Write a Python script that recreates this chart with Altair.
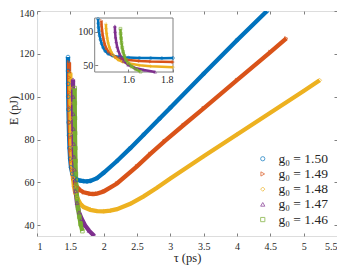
import altair as alt
import pandas as pd

# ---------------- data ----------------
series = ["g₀ = 1.50", "g₀ = 1.49", "g₀ = 1.48", "g₀ = 1.47", "g₀ = 1.46"]
colors = ["#0072BD", "#D95319", "#EDB120", "#7E2F8E", "#77AC30"]
shapes = ["circle", "triangle-right", "diamond", "triangle-up", "square"]

tau_150 = [1.465, 1.466, 1.467, 1.469, 1.472, 1.476, 1.481, 1.488, 1.497, 1.51, 1.53, 1.56, 1.6,
           1.65, 1.7, 1.75, 1.8, 1.9, 2.0, 2.2, 2.4, 2.6, 2.84, 3.0, 3.5, 4.0, 4.45]
E_150 = [118.5, 112, 106, 100, 94, 88, 82, 76, 71, 67, 64, 62.3, 61.3,
         60.8, 60.6, 60.5, 60.7, 62.0, 64.5, 70.0, 76.0, 82.3, 89.8, 94.9, 110.7, 126.4, 140]

tau_149 = [1.48, 1.481, 1.483, 1.486, 1.49, 1.495, 1.502, 1.512, 1.525, 1.545, 1.57, 1.6, 1.65,
           1.7, 1.8, 1.85, 1.9, 2.0, 2.2, 2.5, 2.7, 2.915, 3.2, 3.5, 4.0, 4.5, 4.74]
E_149 = [116, 109, 102, 95, 88, 81, 75, 70, 66, 62, 59.5, 57.8, 56.3,
         55.4, 54.7, 54.6, 54.8, 55.8, 59.5, 67.5, 73.3, 79.3, 86.8, 94.6, 107.7, 120.8, 127.2]

tau_148 = [1.50, 1.501, 1.503, 1.506, 1.51, 1.515, 1.522, 1.53, 1.54, 1.555, 1.575, 1.6, 1.65,
           1.7, 1.8, 1.9, 2.0, 2.1, 2.2, 2.4, 2.6, 2.8, 3.0, 3.5, 4.0, 4.5, 5.0, 5.24]
E_148 = [111, 104, 97, 90, 83, 77, 71, 66, 62, 58, 55, 53, 50,
         48.5, 47.2, 46.6, 46.5, 46.8, 47.5, 50.0, 53.5, 57.5, 61.8, 72.2, 82.4, 92.5, 102.7, 107.7]

tau_147 = [1.54, 1.541, 1.543, 1.546, 1.55, 1.555, 1.562, 1.57, 1.58, 1.6, 1.63, 1.67, 1.72,
           1.78, 1.86]
E_147 = [108, 100, 92, 85, 78, 72, 66, 61, 56, 50.5, 46, 43, 40,
         37.5, 35]

tau_146 = [1.565, 1.566, 1.568, 1.57, 1.573, 1.577, 1.582, 1.59, 1.6, 1.615, 1.635, 1.655, 1.68]
E_146 = [104, 97, 90, 83, 76, 70, 64, 58, 53, 48, 44, 40.5, 37.3]

x_ticks = [1, 1.5, 2, 2.5, 3, 3.5, 4, 4.5, 5, 5.5]
y_ticks = [40, 60, 80, 100, 120, 140]
x_domain = [1, 5.5]
y_domain = [35, 140]

inset_x_domain = [1.45, 1.8]
inset_y_domain = [40, 120]
inset_x_ticks = [1.6, 1.8]
inset_y_ticks = [50, 100]

rows = []
for name, ts, es in zip(series,
                        [tau_150, tau_149, tau_148, tau_147, tau_146],
                        [E_150, E_149, E_148, E_147, E_146]):
    for i, (t, e) in enumerate(zip(ts, es)):
        rows.append({"g": name, "tau": t, "E": e, "idx": i})
df = pd.DataFrame(rows)

# ---------------- layout ----------------
W, H = 300, 225
FONT = "Liberation Serif, DejaVu Serif, serif"
AX = "#808080"
TXT = "#262626"

xs = alt.Scale(domain=x_domain, nice=False, zero=False)
ys = alt.Scale(domain=y_domain, nice=False, zero=False)
cs = alt.Scale(domain=series, range=colors)
ss = alt.Scale(domain=series, range=shapes)

x_axis = alt.Axis(values=x_ticks, format="~g", title="τ (ps)", orient="bottom", offset=-3,
                  tickSize=3, domain=False, grid=False, labelPadding=5, tickColor=AX,
                  labelColor=TXT, labelFont=FONT, labelFontSize=10, titleFont=FONT,
                  titleFontSize=12.5, titleFontWeight="normal", titleColor=TXT,
                  titleX=W / 2, titleY=24, titleAlign="center", titleBaseline="middle")
y_axis = alt.Axis(values=y_ticks, format="d", title="E (pJ)", orient="left", offset=-3,
                  tickSize=3, domain=False, grid=False, labelPadding=3, tickColor=AX,
                  labelColor=TXT, labelFont=FONT, labelFontSize=10, titleFont=FONT,
                  titleFontSize=12, titleFontWeight="normal", titleColor=TXT,
                  titleX=-26.5, titleY=99, titleAngle=270, titleAlign="center",
                  titleBaseline="middle",
                  labelOffset=alt.ExprRef("datum.value == 140 ? 2 : 0"))
x_mirror = alt.Axis(values=x_ticks, orient="bottom", offset=-H, tickSize=3, domain=False,
                    labels=False, grid=False, title=None, tickColor=AX)
y_mirror = alt.Axis(values=y_ticks, orient="left", offset=-W, tickSize=3, domain=False,
                    labels=False, grid=False, title=None, tickColor=AX)

legend = alt.Legend(orient="none", legendX=219, legendY=141, title=None, labelFont=FONT,
                    labelFontSize=13.5, labelColor=TXT, symbolSize=18, symbolStrokeWidth=1,
                    rowPadding=0.2, padding=0, labelOffset=9)

base = alt.Chart(df)
main_lines = base.mark_line(strokeWidth=4.3, clip=True).encode(
    x=alt.X("tau:Q", scale=xs, axis=x_axis),
    y=alt.Y("E:Q", scale=ys, axis=y_axis),
    color=alt.Color("g:N", scale=cs, legend=legend),
    detail="g:N",
    order="idx:Q",
)
main_points = base.mark_point(filled=False, size=14, strokeWidth=1, clip=True).encode(
    x=alt.X("tau:Q", scale=xs, axis=x_mirror),
    y=alt.Y("E:Q", scale=ys, axis=y_mirror),
    color=alt.Color("g:N", scale=cs, legend=legend),
    shape=alt.Shape("g:N", scale=ss, legend=legend),
)
main = alt.layer(main_lines, main_points).resolve_axis(x="independent", y="independent")

# ---------------- inset ----------------
I_TOP, I_BOT, I_LEFT, I_RIGHT = 7, 61, 57.7, 136
ixs = alt.Scale(domain=inset_x_domain, range=[I_LEFT, I_RIGHT], nice=False, zero=False)
iys = alt.Scale(domain=inset_y_domain, range=[I_BOT, I_TOP], nice=False, zero=False)
ix_axis = alt.Axis(values=inset_x_ticks, format="~g", orient="bottom", offset=(I_BOT - 3) - H,
                   tickSize=3, domain=False, grid=False, title=None, labelPadding=2,
                   tickColor=AX, labelColor=TXT, labelFont=FONT, labelFontSize=10, zindex=1)
iy_axis = alt.Axis(values=inset_y_ticks, format="d", orient="left", offset=-(I_LEFT + 3),
                   tickSize=3, domain=False, grid=False, title=None, labelPadding=2,
                   tickColor=AX, labelColor=TXT, labelFont=FONT, labelFontSize=10, zindex=1)

box = pd.DataFrame({"x": [inset_x_domain[0]], "x2": [inset_x_domain[1]],
                    "y": [inset_y_domain[0]], "y2": [inset_y_domain[1]]})
inset_box = alt.Chart(box).mark_rect(fill="white", stroke=AX, strokeWidth=1).encode(
    x=alt.X("x:Q", scale=ixs, axis=ix_axis),
    x2="x2:Q",
    y=alt.Y("y:Q", scale=iys, axis=iy_axis),
    y2="y2:Q",
)
inset_base = base.transform_filter(
    (alt.datum.tau >= inset_x_domain[0]) & (alt.datum.tau <= inset_x_domain[1])
    & (alt.datum.E >= inset_y_domain[0]) & (alt.datum.E <= inset_y_domain[1])
)
inset_lines = inset_base.mark_line(strokeWidth=2.5).encode(
    x=alt.X("tau:Q", scale=ixs, axis=ix_axis),
    y=alt.Y("E:Q", scale=iys, axis=iy_axis),
    color=alt.Color("g:N", scale=cs, legend=legend),
    detail="g:N",
    order="idx:Q",
)
inset_points = inset_base.mark_point(filled=False, size=8, strokeWidth=0.8).encode(
    x=alt.X("tau:Q", scale=ixs, axis=ix_axis),
    y=alt.Y("E:Q", scale=iys, axis=iy_axis),
    color=alt.Color("g:N", scale=cs, legend=legend),
    shape=alt.Shape("g:N", scale=ss, legend=legend),
)
inset = alt.layer(inset_box, inset_lines, inset_points)

chart = alt.layer(main, inset).resolve_scale(x="independent", y="independent").properties(
    width=W, height=H,
    autosize=alt.AutoSizeParams(type="none"),
    padding={"left": 29, "top": 3, "right": 0, "bottom": 29},
).configure_view(stroke=AX, strokeWidth=1).configure(background="white")

chart.save("out.html", embed_options={"renderer": "svg", "actions": False})
